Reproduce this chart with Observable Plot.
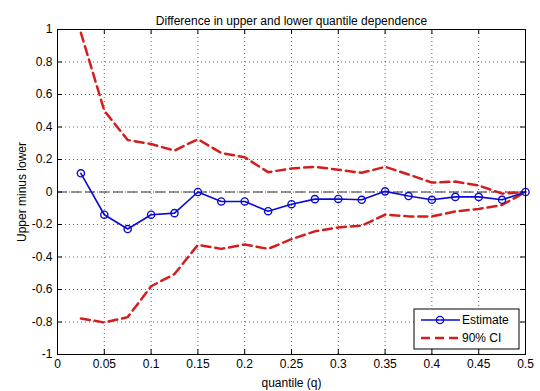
<!DOCTYPE html>
<html><head><meta charset="utf-8">
<script src="https://cdn.jsdelivr.net/npm/d3@7"></script>
<script src="https://cdn.jsdelivr.net/npm/@observablehq/plot@0.6"></script>
<style>html,body{margin:0;padding:0;background:#fff}</style>
</head><body><div id="chart"></div>
<script>
const quantiles = [0.025,0.05,0.075,0.1,0.125,0.15,0.175,0.2,0.225,0.25,0.275,0.3,0.325,0.35,0.375,0.4,0.425,0.45,0.475,0.5];
const estimate = [0.115,-0.14,-0.228,-0.14,-0.13,0.0,-0.058,-0.058,-0.118,-0.075,-0.044,-0.043,-0.048,0.004,-0.025,-0.048,-0.03,-0.03,-0.048,0.0];
const ciUpper = [0.98,0.50,0.32,0.295,0.255,0.325,0.24,0.214,0.122,0.145,0.155,0.137,0.118,0.155,0.108,0.058,0.064,0.04,-0.01,0.0];
const ciLower = [-0.778,-0.803,-0.77,-0.58,-0.505,-0.325,-0.35,-0.323,-0.35,-0.29,-0.242,-0.218,-0.207,-0.14,-0.15,-0.15,-0.12,-0.104,-0.08,0.0];
const xTicks = [0,0.05,0.1,0.15,0.2,0.25,0.3,0.35,0.4,0.45,0.5];
const xTickLabels = ["0","0.05","0.1","0.15","0.2","0.25","0.3","0.35","0.4","0.45","0.5"];
const yTicks = [-1,-0.8,-0.6,-0.4,-0.2,0,0.2,0.4,0.6,0.8,1];
const yTickLabels = ["-1","-0.8","-0.6","-0.4","-0.2","0","0.2","0.4","0.6","0.8","1"];
const titleText = "Difference in upper and lower quantile dependence";
const xLabel = "quantile (q)";
const yLabel = "Upper minus lower";
const legendLabels = ["Estimate","90% CI"];

const estData = quantiles.map((q,i)=>({q, v: estimate[i]}));
const upData = quantiles.map((q,i)=>({q, v: ciUpper[i]}));
const loData = quantiles.map((q,i)=>({q, v: ciLower[i]}));

const W = 540, H = 391, mL = 57, mR = 15, mT = 29, mB = 37;
const pw = W - mL - mR, ph = H - mT - mB;
const blue = "#0a0ad0", red = "#d41e1e";
const font = "'Liberation Sans', Arial, sans-serif";

const chart = Plot.plot({
  width: W, height: H,
  marginLeft: mL, marginRight: mR, marginTop: mT, marginBottom: mB,
  style: {fontFamily: font, fontSize: "12px", background: "#fff", color: "#000"},
  x: {domain: [0, 0.5]},
  y: {domain: [-1, 1]},
  marks: [
    Plot.gridX(xTicks, {stroke: "#000", strokeOpacity: 0.6, strokeDasharray: "1,3"}),
    Plot.gridY(yTicks, {stroke: "#000", strokeOpacity: 0.6, strokeDasharray: "1,3"}),
    Plot.ruleY([0], {stroke: "#333", strokeWidth: 1, strokeDasharray: "10,4"}),
    Plot.tickX(xTicks, {x: d => d, insetTop: ph - 5, stroke: "#000"}),
    Plot.tickX(xTicks, {x: d => d, insetBottom: ph - 5, stroke: "#000"}),
    Plot.tickY(yTicks, {y: d => d, insetLeft: pw - 5, stroke: "#000"}),
    Plot.tickY(yTicks, {y: d => d, insetRight: pw - 5, stroke: "#000"}),
    Plot.axisX(xTicks, {tickSize: 0, tickPadding: 5, tickFormat: (d,i) => xTickLabels[i], fontSize: 12, label: xLabel, labelAnchor: "center", labelArrow: "none", labelOffset: 32}),
    Plot.axisY(yTicks, {tickSize: 0, tickPadding: 5, tickFormat: (d,i) => yTickLabels[i], fontSize: 12, label: yLabel, labelAnchor: "center", labelArrow: "none", labelOffset: 40}),
    Plot.line(upData, {x: "q", y: "v", stroke: red, strokeWidth: 2.5, strokeDasharray: "9,5"}),
    Plot.line(loData, {x: "q", y: "v", stroke: red, strokeWidth: 2.5, strokeDasharray: "9,5"}),
    Plot.line(estData, {x: "q", y: "v", stroke: blue, strokeWidth: 1.6}),
    Plot.dot(estData, {x: "q", y: "v", r: 3.6, stroke: blue, strokeWidth: 1.4, fill: "none"}),
    Plot.frame({stroke: "#000"}),
    Plot.text([titleText], {text: d => d, frameAnchor: "top", dy: -13, fontSize: 12, fill: "#000"})
  ]
});
document.getElementById("chart").appendChild(chart);

// legend
const svg = d3.select(chart);
const lx = 414, ly = 309, lw = 105, lh = 40;
const g = svg.append("g").attr("font-family", font).attr("font-size", 12).attr("text-anchor", "start");
g.append("rect").attr("x", lx).attr("y", ly).attr("width", lw).attr("height", lh).attr("fill", "#fff").attr("stroke", "#000");
g.append("line").attr("x1", lx + 7).attr("x2", lx + 46).attr("y1", ly + 11).attr("y2", ly + 11).attr("stroke", blue).attr("stroke-width", 1.6);
g.append("circle").attr("cx", lx + 26).attr("cy", ly + 11).attr("r", 3.6).attr("fill", "none").attr("stroke", blue).attr("stroke-width", 1.4);
g.append("text").attr("x", lx + 48).attr("y", ly + 11).attr("dy", "0.35em").attr("text-anchor", "start").text(legendLabels[0]);
g.append("line").attr("x1", lx + 7).attr("x2", lx + 46).attr("y1", ly + 29).attr("y2", ly + 29).attr("stroke", red).attr("stroke-width", 2.5).attr("stroke-dasharray", "9,5");
g.append("text").attr("x", lx + 48).attr("y", ly + 29).attr("dy", "0.35em").attr("text-anchor", "start").text(legendLabels[1]);
</script></body></html>
